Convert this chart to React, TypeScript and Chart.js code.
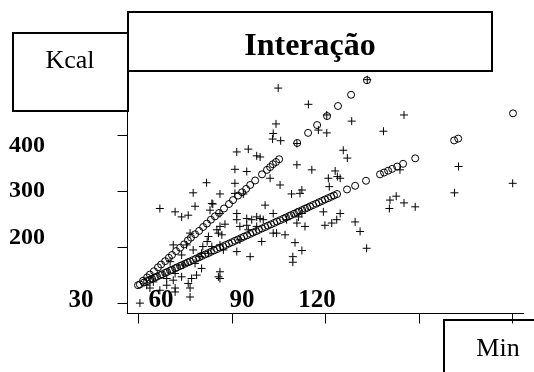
import React, { useEffect, useRef } from "react";
import { Chart, registerables } from "chart.js";

Chart.register(...registerables);

// Observed values (plus signs): minutes and kcal
const obsMin = [
  74.7, 84.4, 90.3, 98.3, 103.3, 115.1, 108.5, 74.0, 73.1, 72.9, 75.5, 87.6, 90.3, 80.7, 95.6, 96.9,
  80.7, 85.5, 68.9, 72.1, 75.3, 93.0, 90.8, 93.7, 94.6, 91.1, 79.0, 82.3, 81.7, 70.5, 68.9, 89.2,
  80.7, 83.3, 89.7, 91.9, 93.5, 94.6, 99.4, 101.0, 103.1, 74.2, 76.9, 73.1, 80.1, 82.3, 79.4, 69.4,
  110.6, 112.6, 115.1, 118.7, 110.4, 131.3, 132.6, 150.0, 113.8, 36.7, 41.6, 43.7, 45.8, 48.0, 53.7,
  56.0, 61.4, 64.6, 66.2, 67.8, 69.9, 64.6, 57.6, 55.5, 52.3, 51.9, 50.5, 53.4, 56.0, 46.4, 41.0,
  43.7, 47.4, 50.1, 49.6, 52.3, 57.1, 61.4, 65.7, 79.4, 77.4, 81.2, 82.3, 73.1, 50.1, 56.0, 55.5,
  56.0, 48.5, 46.9, 45.8, 43.7, 41.6, 41.0, 38.9, 38.9, 41.6, 41.6, 46.4, 46.4, 34.6, 32.5, 33.5,
  30.3, 36.7, 40.0, 44.2, 48.0, 47.4, 51.7, 56.0, 53.4, 52.8, 61.4, 65.1, 67.8, 60.8, 64.6, 60.8,
  63.5, 60.8, 61.4, 56.0, 56.6, 55.0, 45.3, 62.4, 65.1, 67.8, 62.4,
];
const obsKcal = [
  485, 456, 437, 426, 500, 437, 408, 421, 404, 394, 391, 410, 405, 386, 374, 360,
  348, 339, 362, 324, 312, 337, 324, 327, 324, 309, 296, 303, 297, 276, 252, 264,
  244, 238, 240, 244, 250, 261, 246, 229, 199, 226, 223, 226, 209, 195, 184, 211,
  285, 292, 280, 273, 270, 298, 345, 315, 339, 270, 264, 255, 258, 274, 278,
  261, 261, 252, 250, 255, 250, 240, 242, 226, 220, 211, 202, 202, 205, 226, 205,
  187, 196, 190, 184, 190, 196, 193, 184, 174, 250, 255, 261, 261, 163, 157, 148,
  145, 151, 145, 136, 148, 154, 142, 145, 133, 128, 121, 128, 112, 139, 133, 128,
  101, 124, 175, 169, 172, 298, 316, 296, 279, 267, 371, 376, 364, 340, 336, 315,
  296, 297, 250, 238, 223, 232, 205, 214, 232, 238, 238,
];

// Fitted values (open circles): minutes and kcal
const fitMin = [
  29.7, 31.3, 32.6, 33.5, 34.8, 36.1, 37.1, 38.4, 39.6, 40.6, 41.9, 43.2, 44.5, 45.7, 46.7, 48.0,
  49.3, 50.6, 51.8, 53.1, 54.4, 55.7, 57.3, 58.9, 60.2, 61.8, 63.1, 64.4, 65.7, 67.3, 69.5, 71.1,
  72.1, 73.0, 74.0, 75.0, 80.8, 84.3, 87.2, 90.4, 93.9, 98.1, 103.2,
  30.3, 31.6, 32.6, 33.5, 34.2, 35.1, 35.8, 36.8, 37.4, 38.4, 39.0, 40.0, 40.6, 41.6, 42.2, 43.2,
  43.8, 44.8, 45.7, 46.4, 47.4, 48.3, 49.3, 50.2, 51.2, 52.2, 53.1, 54.1, 55.1, 56.0, 57.0, 57.9,
  58.9, 59.9, 60.8, 61.8, 62.8, 63.7, 64.7, 65.7, 66.6, 67.6, 68.5, 69.5, 70.5, 71.4, 72.4, 73.4,
  74.3, 75.3, 76.3, 77.2, 78.2, 78.8, 79.8, 80.8, 81.4, 82.4, 83.3, 84.0, 84.9, 85.9, 86.9, 87.8,
  88.8, 89.7, 90.7, 91.7, 92.6, 93.6, 96.8, 99.4, 102.9, 107.4, 108.7, 110.0, 111.3, 112.9, 114.8,
  118.7, 131.2, 132.5, 150.1,
];
const fitKcal = [
  133, 141, 147, 152, 158, 165, 170, 176, 182, 187, 194, 200, 206, 213, 218, 224,
  230, 237, 243, 250, 256, 262, 270, 278, 285, 293, 299, 305, 312, 320, 331, 339,
  344, 349, 353, 358, 387, 405, 419, 435, 453, 473, 499,
  134.5, 137.8, 140.3, 142.7, 144.3, 146.8, 148.4, 150.9, 152.5, 155.0, 156.6, 159.1, 160.7, 163.2, 164.8, 167.3,
  168.9, 171.4, 173.8, 175.5, 177.9, 180.4, 182.8, 185.3, 187.7, 190.2, 192.6, 195.1, 197.6, 200.0, 202.5, 204.9,
  207.4, 209.8, 212.3, 214.8, 217.2, 219.7, 222.1, 224.6, 227.0, 229.5, 231.9, 234.4, 236.9, 239.3, 241.8, 244.2,
  246.7, 249.1, 251.6, 254.0, 256.5, 258.1, 260.6, 263.1, 264.7, 267.1, 269.6, 271.2, 273.7, 276.2, 278.6, 281.1,
  283.5, 286.0, 288.4, 290.9, 293.3, 295.8, 304.0, 310.5, 319.5, 331.0, 334.2, 337.5, 340.8, 344.9, 349.8,
  359.6, 391.6, 394.8, 439.9,
];

const xTickValues = [30, 60, 90, 120, 150];
const yTickValues = [100, 200, 300, 400];
const yTickLabels = ["400", "300", "200"];
const xTickLabels = ["30", "60", "90", "120"];
const titleText = "Interação";
const yTitleText = "Kcal";
const xTitleText = "Min";

const FONT = "'Liberation Serif', 'Times New Roman', serif";

const overlayPlugin = {
  id: "overlay",
  afterDatasetsDraw(chart: any) {
    const ctx = chart.ctx as CanvasRenderingContext2D;
    ctx.save();
    ctx.strokeStyle = "#000";
    ctx.lineWidth = 2;
    ctx.strokeRect(13, 33, 115, 78);
    ctx.strokeRect(128, 12, 364, 59);
    ctx.strokeRect(444, 320, 200, 100);

    ctx.fillStyle = "#000";
    ctx.textBaseline = "alphabetic";
    ctx.textAlign = "center";
    ctx.font = `26px ${FONT}`;
    ctx.fillText(yTitleText, 70, 68);
    ctx.fillText(xTitleText, 498, 356);
    ctx.font = `bold 32px ${FONT}`;
    ctx.fillText(titleText, 310, 55);

    ctx.font = `bold 24px ${FONT}`;
    ctx.textAlign = "right";
    const yBase = [152, 197, 244];
    yTickLabels.forEach((t, i) => ctx.fillText(t, 45, yBase[i]));

    ctx.font = `bold 25px ${FONT}`;
    ctx.textAlign = "center";
    const xCenters = [81, 161, 242, 317];
    xTickLabels.forEach((t, i) => ctx.fillText(t, xCenters[i], 307));
    ctx.restore();
  },
};

export default function App() {
  const ref = useRef<HTMLCanvasElement | null>(null);
  useEffect(() => {
    if (!ref.current) return;
    const chart = new Chart(ref.current, {
      type: "scatter",
      data: {
        datasets: [
          {
            data: obsMin.map((x, i) => ({ x, y: obsKcal[i] })),
            pointStyle: "cross",
            pointRadius: 4,
            borderColor: "#000",
            backgroundColor: "#000",
            borderWidth: 1,
          },
          {
            data: fitMin.map((x, i) => ({ x, y: fitKcal[i] })),
            pointStyle: "circle",
            pointRadius: 3.5,
            borderColor: "#000",
            backgroundColor: "rgba(0,0,0,0)",
            borderWidth: 1,
          },
        ],
      },
      options: {
        responsive: false,
        animation: false,
        events: [],
        layout: { padding: { left: 117.5, top: 70.5, right: 11, bottom: 48.5 } },
        plugins: { legend: { display: false }, tooltip: { enabled: false } },
        scales: {
          x: {
            type: "linear",
            min: 26.31,
            max: 153.31,
            afterBuildTicks: (s: any) => {
              s.ticks = xTickValues.map((v) => ({ value: v }));
            },
            ticks: { display: false },
            grid: { drawOnChartArea: false, drawTicks: true, tickLength: 10, color: "#000", tickColor: "#000", lineWidth: 1 },
            border: { display: true, color: "#000", width: 1 },
          },
          y: {
            type: "linear",
            min: 82.5,
            max: 516.4,
            afterBuildTicks: (s: any) => {
              s.ticks = yTickValues.map((v) => ({ value: v }));
            },
            ticks: { display: false },
            grid: { drawOnChartArea: false, drawTicks: true, tickLength: 10, color: "#000", tickColor: "#000", lineWidth: 1 },
            border: { display: true, color: "#000", width: 1 },
          },
        },
      },
      plugins: [overlayPlugin],
    } as any);
    return () => chart.destroy();
  }, []);
  return (
    <>
      <style>{"body{margin:0;background:#fff}"}</style>
      <canvas
        ref={ref}
        width={534}
        height={372}
        style={{ position: "absolute", left: 0, top: 0, width: 534, height: 372, display: "block" }}
      />
    </>
  );
}
